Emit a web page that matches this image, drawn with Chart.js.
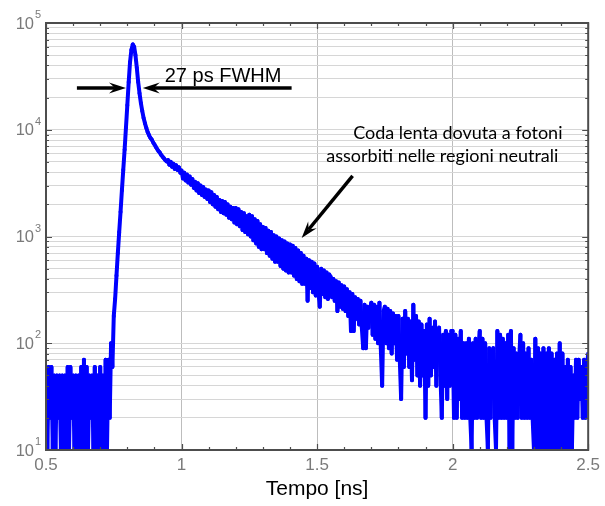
<!DOCTYPE html>
<html lang="it">
<head>
<meta charset="UTF-8">
<title>Tempo [ns]</title>
<script src="https://cdn.jsdelivr.net/npm/chart.js"></script>
<style>
  html, body { margin: 0; padding: 0; background: #fff; }
</style>
</head>
<body>
<canvas id="decayChart" width="605" height="506"></canvas>
<script>
// istogramma dei tempi di arrivo (bin da 5 ps a partire da 0.5 ns)
const binStart = 0.5;
const binWidth = 0.005;
const counts = [
  // 0.500 - 0.735 : fondo
  60, 10, 60, 20, 60, 10, 50, 10, 50, 20, 50, 10,
  50, 10, 50, 10, 60, 10, 60, 20, 50, 10, 50, 10,
  50, 10, 60, 10, 70, 10, 60, 10, 50, 20, 50, 10,
  60, 10, 50, 10, 60, 10, 50, 10, 70, 10, 70, 20,
  // 0.740 - 0.945 : salita, picco, discesa rapida
  100, 60, 180, 260, 430, 700, 1100, 1700, 2700, 4200,
  6500, 10500, 17000, 28000, 43000, 56000, 63000, 60000, 50000, 38000,
  28000, 22000, 17800, 15000, 12900, 11500, 10400, 9500, 8900, 8400,
  8100, 7600, 7300, 6900, 6600, 6300, 6100, 5800, 5600, 5400,
  5200, 5050,
  // 0.950 - 1.495 : coda lenta
  5200, 4700, 5000, 4500, 4800, 4300, 4650, 4200, 4450, 3950,
  4150, 3500, 3950, 3350, 3800, 3200, 3650, 3050, 3450, 2850,
  3250, 2700, 3150, 2550, 3000, 2450, 2900, 2350, 2750, 2250,
  2700, 2100, 2600, 2000, 2450, 1900, 2350, 1800, 2200, 1700,
  2150, 1650, 2100, 1600, 2000, 1500, 1900, 1450, 1850, 1350,
  1850, 1300, 1800, 1250, 1700, 1150, 1650, 1100, 1550, 1050,
  1600, 1000, 1550, 920, 1450, 860, 1400, 800, 1300, 760,
  1230, 760, 1200, 700, 1130, 660, 1100, 620, 1030, 580,
  1000, 580, 960, 530, 920, 500, 900, 480, 860, 460,
  840, 460, 820, 430, 780, 400, 740, 380, 700, 360,
  660, 360, 620, 250, 600, 330, 580, 300, 560, 280,
  // 1.500 - 1.995
  520, 300, 220, 500, 290, 480, 270, 460, 260, 440,
  420, 270, 400, 250, 380, 200, 370, 220, 350, 210,
  340, 200, 320, 180, 300, 130, 290, 130, 270, 170,
  260, 150, 250, 140, 90, 230, 90, 220, 140, 210,
  240, 120, 230, 110, 220, 100, 240, 90, 40, 200,
  220, 100, 210, 90, 200, 80, 190, 100, 180, 70,
  180, 70, 30, 170, 60, 200, 80, 170, 60, 160,
  45, 230, 70, 180, 50, 160, 40, 150, 50, 130,
  20, 150, 40, 170, 50, 140, 60, 160, 40, 130,
  140, 50, 20, 120, 40, 130, 30, 120, 40, 130,
  // 2.000 - 2.500
  130, 20, 120, 20, 110, 30, 130, 20, 100, 20,
  100, 20, 110, 20, 10, 100, 20, 110, 20, 90,
  130, 20, 110, 20, 100, 20, 10, 90, 20, 80,
  90, 20, 10, 130, 20, 120, 20, 110, 20, 100,
  20, 120, 10, 130, 10, 90, 20, 80, 20, 70,
  120, 20, 100, 20, 80, 20, 90, 20, 70, 20,
  10, 110, 10, 90, 10, 80, 10, 90, 10, 80,
  10, 90, 10, 80, 10, 70, 10, 80, 10, 100,
  10, 80, 10, 60, 10, 70, 10, 60, 10, 50,
  20, 70, 20, 70, 30, 60, 20, 70, 20, 60,
  80
];

const xTicks = [0.5, 1, 1.5, 2, 2.5];
const yDecades = [10, 100, 1000, 10000, 100000];
const yExponents = ['1', '2', '3', '4', '5'];

// annotazioni (coordinate nei dati)
const fwhmLabel = { text: '27 ps FWHM', at: [0.938, 28000] };
const fwhmArrows = [
  { from: [0.614, 24600], to: [0.795, 24600] },
  { from: [1.406, 24600], to: [0.857, 24600] }
];
const tailLabel = [
  { text: 'Coda lenta dovuta a fotoni', at: [2.019, 8190] },
  { text: 'assorbiti nelle regioni neutrali', at: [1.962, 5010] }
];
const tailArrow = { from: [1.631, 3690], to: [1.443, 968] };

const sansFont = '"Liberation Sans", Arial, Helvetica, sans-serif';
const labelFont = 'Lato, "Liberation Sans", sans-serif';

// griglia orizzontale su tutte le suddivisioni del log
const yGrid = [];
yDecades.forEach(d => {
  if (d === 100000) { yGrid.push(d); return; }
  for (let m = 1; m <= 9; m++) yGrid.push(d * m);
});

const points = counts.map((c, i) => ({ x: binStart + i * binWidth, y: c }));

function drawArrow(ctx, x0, y0, x1, y1) {
  const ang = Math.atan2(y1 - y0, x1 - x0);
  const len = 17, half = 5.5, notch = 11;
  ctx.beginPath();
  ctx.moveTo(x0, y0);
  ctx.lineTo(x1 - Math.cos(ang) * notch, y1 - Math.sin(ang) * notch);
  ctx.stroke();
  ctx.save();
  ctx.translate(x1, y1);
  ctx.rotate(ang);
  ctx.beginPath();
  ctx.moveTo(0, 0);
  ctx.lineTo(-len, -half);
  ctx.lineTo(-notch, 0);
  ctx.lineTo(-len, half);
  ctx.closePath();
  ctx.fill();
  ctx.restore();
}

const decorations = {
  id: 'decorations',
  afterDatasetsDraw(chart) {
    const { ctx, chartArea: a, scales: { x, y } } = chart;
    ctx.save();

    // cornice
    ctx.strokeStyle = '#4d4d4d';
    ctx.lineWidth = 2;
    ctx.strokeRect(a.left, a.top, a.right - a.left, a.bottom - a.top);

    // tacche interne
    ctx.lineWidth = 1.2;
    for (let k = 0; k <= 20; k++) {
      const v = 0.5 + k * 0.1;
      const px = Math.round(x.getPixelForValue(v)) + 0.5;
      const l = (k % 5 === 0) ? 6 : 3;
      ctx.beginPath();
      ctx.moveTo(px, a.bottom); ctx.lineTo(px, a.bottom - l);
      ctx.moveTo(px, a.top); ctx.lineTo(px, a.top + l);
      ctx.stroke();
    }
    yGrid.forEach(v => {
      const py = Math.round(y.getPixelForValue(v)) + 0.5;
      const l = yDecades.includes(v) ? 6 : 3;
      ctx.beginPath();
      ctx.moveTo(a.left, py); ctx.lineTo(a.left + l, py);
      ctx.moveTo(a.right, py); ctx.lineTo(a.right - l, py);
      ctx.stroke();
    });

    // etichette asse y: 10 con esponente
    ctx.fillStyle = '#7a7a7a';
    yDecades.forEach((v, i) => {
      const py = y.getPixelForValue(v);
      ctx.font = '16.5px ' + sansFont;
      ctx.textAlign = 'right';
      ctx.textBaseline = 'alphabetic';
      ctx.fillText('10', 34, py + 5.5);
      ctx.font = '11px ' + sansFont;
      ctx.textAlign = 'left';
      ctx.fillText(yExponents[i], 35, py - 5);
    });

    // frecce e testi
    ctx.fillStyle = '#000';
    ctx.strokeStyle = '#000';
    ctx.lineWidth = 3.5;
    fwhmArrows.concat([tailArrow]).forEach(ar => {
      drawArrow(ctx,
        x.getPixelForValue(ar.from[0]), y.getPixelForValue(ar.from[1]),
        x.getPixelForValue(ar.to[0]), y.getPixelForValue(ar.to[1]));
    });

    ctx.textBaseline = 'alphabetic';
    ctx.font = '20px ' + sansFont;
    ctx.textAlign = 'left';
    ctx.fillText(fwhmLabel.text, x.getPixelForValue(fwhmLabel.at[0]), y.getPixelForValue(fwhmLabel.at[1]));

    ctx.font = '18px ' + labelFont;
    ctx.textAlign = 'center';
    tailLabel.forEach(t => {
      ctx.fillText(t.text, x.getPixelForValue(t.at[0]), y.getPixelForValue(t.at[1]));
    });

    ctx.restore();
  }
};

new Chart(document.getElementById('decayChart'), {
  type: 'line',
  data: {
    datasets: [{
      data: points,
      borderColor: '#0000ff',
      borderWidth: 4,
      borderCapStyle: 'round',
      pointRadius: 0,
      tension: 0.000001,
      fill: false,
      // ogni tratto viene disegnato da solo, cosi il rumore fitto resta pieno
      segment: { borderColor: c => (c.p0DataIndex % 2 ? '#0000ff' : '#0000FF') }
    }]
  },
  options: {
    responsive: false,
    animation: false,
    events: [],
    layout: { padding: { top: 23, right: 16, left: 0, bottom: 0 } },
    plugins: { legend: { display: false }, tooltip: { enabled: false } },
    scales: {
      x: {
        type: 'linear',
        min: 0.5,
        max: 2.5,
        afterBuildTicks: s => { s.ticks = xTicks.map(v => ({ value: v })); },
        afterFit: s => { s.height = 56; },
        border: { display: false },
        grid: {
          drawTicks: false,
          lineWidth: 1,
          color: c => (c.tick && (c.tick.value === 0.5 || c.tick.value === 2.5)) ? 'rgba(0,0,0,0)' : '#bdbdbd'
        },
        ticks: {
          padding: 5,
          maxRotation: 0,
          color: '#7a7a7a',
          font: { family: sansFont, size: 17 },
          callback: v => String(v)
        },
        title: {
          display: true,
          text: 'Tempo [ns]',
          color: '#000',
          font: { family: sansFont, size: 21 },
          padding: { top: 0, bottom: 4 }
        }
      },
      y: {
        type: 'logarithmic',
        min: 10,
        max: 100000,
        afterBuildTicks: s => { s.ticks = yGrid.map(v => ({ value: v })); },
        afterFit: s => { s.width = 46; },
        border: { display: false },
        grid: { drawTicks: false, lineWidth: 1, color: '#d6d6d6' },
        ticks: { display: false }
      }
    }
  },
  plugins: [decorations]
});
</script>
</body>
</html>
